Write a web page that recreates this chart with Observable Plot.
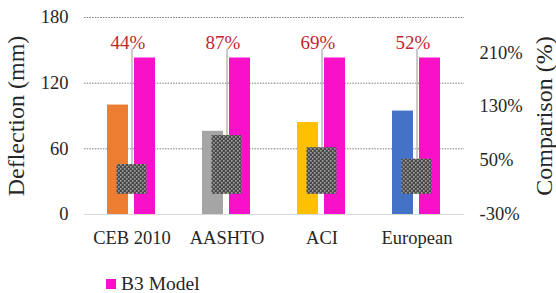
<!DOCTYPE html>
<html><head><meta charset="utf-8">
<script src="https://cdn.jsdelivr.net/npm/d3@7"></script>
<script src="https://cdn.jsdelivr.net/npm/@observablehq/plot@0.6"></script>
<style>
body{margin:0;background:#fff;font-family:'Liberation Serif',serif;}
</style></head><body><div id="chart"></div><div id="legend" style="font-family:'Liberation Serif';display:flex;align-items:center;height:23px;margin-top:2px;padding-left:106px;font-size:19.5px;color:#262626;"><span style="width:10px;height:10px;background:#f811c9;margin-right:5px;display:inline-block"></span><span>B3 Model</span></div>
<script>
const categories = ["CEB 2010", "AASHTO", "ACI", "European"];
const modelDeflection = [100, 76, 84, 94.5];
const b3Deflection = [143, 143, 143, 143];
const comparison = [44, 87, 69, 52];
const leftTicks = [0, 60, 120, 180];
const gridTicks = [60, 120, 180];
const rightTicks = [-30, 50, 130, 210];
const leftDomain = [0, 180];
const rightDomain = [-30, 262];
const seriesNames = ["Model", "B3 Model"];
const colors = ["#ed7d31", "#a5a5a5", "#ffc000", "#4472c4", "#f811c9"];
const serif = "'Liberation Serif', serif";

const toLeft = r => (r - rightDomain[0]) * (leftDomain[1] - leftDomain[0]) / (rightDomain[1] - rightDomain[0]);
const fromLeft = v => Math.round(v * (rightDomain[1] - rightDomain[0]) / (leftDomain[1] - leftDomain[0]) + rightDomain[0]);

const bars = categories.flatMap((c, i) => [
  {cat: c, series: seriesNames[0], value: modelDeflection[i], key: c},
  {cat: c, series: seriesNames[1], value: b3Deflection[i], key: "B3 Model"}
]);
const boxes = categories.map((c, i) => ({cat: c, pct: comparison[i]}));
const labelLevel = 156.5;
const leaderTop = 151;

const svg = Plot.plot({
  width: 556, height: 270,
  marginTop: 17, marginBottom: 56, marginLeft: 84, marginRight: 92,
  style: "font-family:'Liberation Serif',serif;font-size:18.5px;color:#262626;background:#fff;",
  fx: {domain: categories, padding: 0, label: null},
  x: {domain: seriesNames, paddingInner: 0.22, paddingOuter: 0.865, axis: null},
  y: {domain: leftDomain, axis: null},
  color: {domain: [...categories, "B3 Model"], range: colors},
  marks: [
    Plot.gridY(gridTicks, {stroke: "#7f7f7f", strokeOpacity: 1, strokeDasharray: "1.5,1.2"}),
    Plot.ruleY([0], {stroke: "#d9d9d9", strokeWidth: 1.2}),
    Plot.barY(bars, {fx: "cat", x: "series", y: "value", fill: "key"}),
    Plot.barY(boxes, {fx: "cat", y1: () => toLeft(0), y2: d => toLeft(d.pct), fill: "url(#checker)", insetLeft: 32.5, insetRight: 32.5}),
    Plot.ruleX(boxes, {fx: "cat", x: null, y1: () => leaderTop, y2: d => toLeft(d.pct), stroke: "#a6a6a6", strokeWidth: 1.2}),
    Plot.text(boxes, {fx: "cat", y: () => labelLevel, text: d => d.pct + "%", dx: -4, fill: "#c4262e", fontSize: 19, fontFamily: serif}),
    Plot.axisFx({anchor: "bottom", tickSize: 0, tickPadding: 16, label: null, fontSize: 18.5, fontFamily: serif}),
    Plot.axisY(leftTicks, {anchor: "left", tickSize: 0, tickPadding: 16, label: null, fontSize: 18.5, fontFamily: serif}),
    Plot.axisY([], {anchor: "left", tickSize: 0, label: "Deflection (mm)", labelAnchor: "center", labelOffset: 78, labelArrow: "none", fontSize: 24, fontFamily: serif}),
    Plot.axisY(rightTicks.map(toLeft), {anchor: "right", tickSize: 0, tickPadding: 15, tickFormat: d => fromLeft(d) + "%", label: null, fontSize: 18.5, fontFamily: serif}),
    Plot.axisY([], {anchor: "right", tickSize: 0, label: "Comparison (%)", labelAnchor: "center", labelOffset: 87, labelArrow: "none", fontSize: 24, fontFamily: serif})
  ]
});

d3.select(svg).insert("defs", ":first-child").html(
  '<pattern id="checker" width="4" height="4" patternUnits="userSpaceOnUse">' +
  '<rect width="4" height="4" fill="#4a4a4a"/>' +
  '<rect x="0" y="0" width="1.6" height="1.6" fill="#a3a3a3"/>' +
  '<rect x="2" y="2" width="1.6" height="1.6" fill="#a3a3a3"/>' +
  '</pattern>');
document.getElementById("chart").appendChild(svg);
</script></body></html>
